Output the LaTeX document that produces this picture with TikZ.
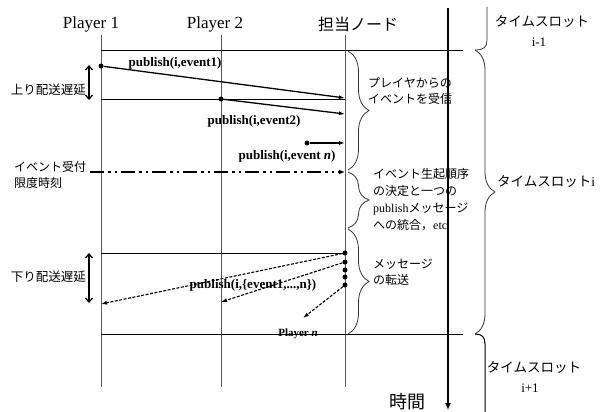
\documentclass[tikz,border=0pt]{standalone}
\usepackage{fontspec}
\setmainfont{Liberation Serif}
\newfontfamily\jp{Noto Sans CJK JP}
\usetikzlibrary{arrows.meta,decorations.pathreplacing}
\begin{document}
\begin{tikzpicture}[x=1pt,y=-1pt,
  life/.style={draw=black!65,line width=0.8pt},
  hline/.style={draw=black,line width=0.9pt},
  msg/.style={draw=black,line width=1.3pt,-{Latex[length=6pt,width=4pt]}},
  dmsg/.style={draw=black,line width=1.1pt,dash pattern=on 3pt off 1.5pt,-{Latex[length=6pt,width=4pt]}},
  dotn/.style={circle,fill=black,inner sep=0pt,minimum size=5pt},
  lbl/.style={font=\bfseries\fontsize{13}{13}\selectfont,inner sep=0pt},
  jtext/.style={font=\jp\fontsize{12}{16}\selectfont,align=left,inner sep=0pt},
  brc/.style={draw=black!80,line width=0.8pt,decorate,decoration={brace,amplitude=#1}},
  brc/.default=20pt,
  dbl/.style={draw=black,line width=1.3pt,{Straight Barb[length=4pt,width=7pt]}-{Straight Barb[length=4pt,width=7pt]}}]
\useasboundingbox (0,0) rectangle (600,412);

% headers
\node[font=\fontsize{17}{17}\selectfont] (p1) at (91,24) {Player 1};
\node[font=\fontsize{17}{17}\selectfont] (p2) at (215,24) {Player 2};
\node[font=\jp\fontsize{16}{16}\selectfont] (nd) at (358,24) {担当ノード};

% lifelines
\coordinate (l1t) at (101,35); \coordinate (l1b) at (101,387);
\coordinate (l2t) at (221,35); \coordinate (l2b) at (221,387);
\coordinate (l3t) at (345,35); \coordinate (l3b) at (345,387);
\draw[life] (l1t) -- (l1b);
\draw[life] (l2t) -- (l2b);
\draw[life] (l3t) -- (l3b);

% horizontal lines
\coordinate (h1a) at (101,50);  \coordinate (h1b) at (463,50);
\coordinate (h2a) at (101,99);  \coordinate (h2b) at (345,99);
\coordinate (h3a) at (101,253); \coordinate (h3b) at (345,253);
\coordinate (h4a) at (101,334); \coordinate (h4b) at (463,334);
\draw[hline] (h1a) -- (h1b);
\draw[hline] (h2a) -- (h2b);
\draw[hline] (h3a) -- (h3b);
\draw[hline] (h4a) -- (h4b);

% time axis
\coordinate (tt) at (448,8); \coordinate (tb) at (448,410);
\draw[line width=2.6pt,-{Latex[length=7pt,width=6pt]}] (tt) -- (tb);
\node[font=\jp\fontsize{18}{18}\selectfont] (jikan) at (407,402) {時間};

% upward messages
\node[dotn] (d1) at (101,66) {};
\coordinate (r1) at (345,98);
\draw[msg] (d1) -- (r1);
\node[lbl] (m1) at (175,63) {publish(i,event1)};

\node[dotn] (d2) at (221,99) {};
\coordinate (r2) at (345,114);
\draw[msg] (d2) -- (r2);
\node[lbl] (m2) at (254,121) {publish(i,event2)};

\node[dotn] (d3) at (307,143) {};
\coordinate (r3) at (345,143);
\draw[msg] (d3) -- (r3);
\node[lbl] (m3) at (287,156) {publish(i,event \textit{n})};

% deadline
\coordinate (dl0) at (90,172); \coordinate (dl1) at (345,172);
\draw[line width=2.6pt,dash pattern=on 14pt off 4pt on 2.5pt off 4pt on 2.5pt off 4pt,-{Latex[length=6pt,width=5pt]}] (dl0) -- (dl1);

% downward messages
\node[dotn] (s1) at (345,253) {};
\node[dotn] (s2) at (345,262) {};
\node[dotn] (s3) at (345,270) {};
\node[dotn] (s4) at (345,277) {};
\node[dotn] (s5) at (345,285) {};
\coordinate (t1) at (101,304);
\coordinate (t2) at (221,302);
\coordinate (t3) at (303,318);
\draw[dmsg] (s1) -- (t1);
\draw[dmsg] (s2) -- (t2);
\draw[dmsg] (s5) -- (t3);
\node[lbl] (m4) at (253,285) {publish(i,\{event1,...,n\})};
\node[font=\bfseries\fontsize{11}{11}\selectfont,inner sep=0pt] (pn) at (298,334) {Player \textit{n}};

% left annotations
\coordinate (ua) at (89,65); \coordinate (ub) at (89,100);
\draw[dbl] (ua) -- (ub);
\node[font=\jp\fontsize{12.5}{12.5}\selectfont,anchor=east,inner sep=0pt] (up) at (86,90) {上り配送遅延};
\node[jtext,anchor=west] (ev) at (14,175) {イベント受付\\限度時刻};
\coordinate (da) at (89,253); \coordinate (db) at (89,303);
\draw[dbl] (da) -- (db);
\node[font=\jp\fontsize{12.5}{12.5}\selectfont,anchor=east,inner sep=0pt] (down) at (86,277) {下り配送遅延};

% small braces
\coordinate (b1a) at (348,51);  \coordinate (b1b) at (348,170);
\coordinate (b2a) at (348,172); \coordinate (b2b) at (348,228);
\coordinate (b3a) at (348,229); \coordinate (b3b) at (348,334);
\draw[brc=21pt] (b1a) -- (b1b);
\draw[brc=21pt] (b2a) -- (b2b);
\draw[brc=21pt] (b3a) -- (b3b);
\node[jtext,anchor=west] (t1txt) at (368,91) {プレイヤからの\\イベントを受信};
\node[jtext,anchor=west,font=\jp\fontsize{12}{17}\selectfont] (t2txt) at (373,200) {イベント生起順序\\の決定と一つの\\{\rmfamily publish}メッセージ\\への統合，{\rmfamily etc}};
\node[jtext,anchor=west] (t3txt) at (373,272) {メッセージ\\の転送};

% time slot braces
\coordinate (B0a) at (487,7); \coordinate (B0b) at (475,50);
\draw[draw=black!80,line width=0.8pt] (B0a) -- (487,40) .. controls (487,47) and (484,50) .. (B0b);
\coordinate (B1a) at (475,50); \coordinate (B1b) at (475,334);
\draw[brc=20pt] (B1a) -- (B1b);
\coordinate (B2a) at (475,334); \coordinate (B2b) at (485,412);
\draw[draw=black,line width=1pt] (B2a) .. controls (482,334) and (485,337) .. (485,344) -- (B2b);

\node[font=\jp\fontsize{13.5}{13.5}\selectfont] (ts0) at (542,22) {タイムスロット};
\node[font=\fontsize{13}{13}\selectfont] (ts0i) at (539,42) {i-1};
\node[font=\jp\fontsize{13.5}{13.5}\selectfont,anchor=west,inner sep=0pt] (ts1) at (497,182) {タイムスロット{\rmfamily i}};
\node[font=\jp\fontsize{13.5}{13.5}\selectfont] (ts2) at (534,368) {タイムスロット};
\node[font=\fontsize{13}{13}\selectfont] (ts2i) at (530,388) {i+1};
\end{tikzpicture}
\end{document}
